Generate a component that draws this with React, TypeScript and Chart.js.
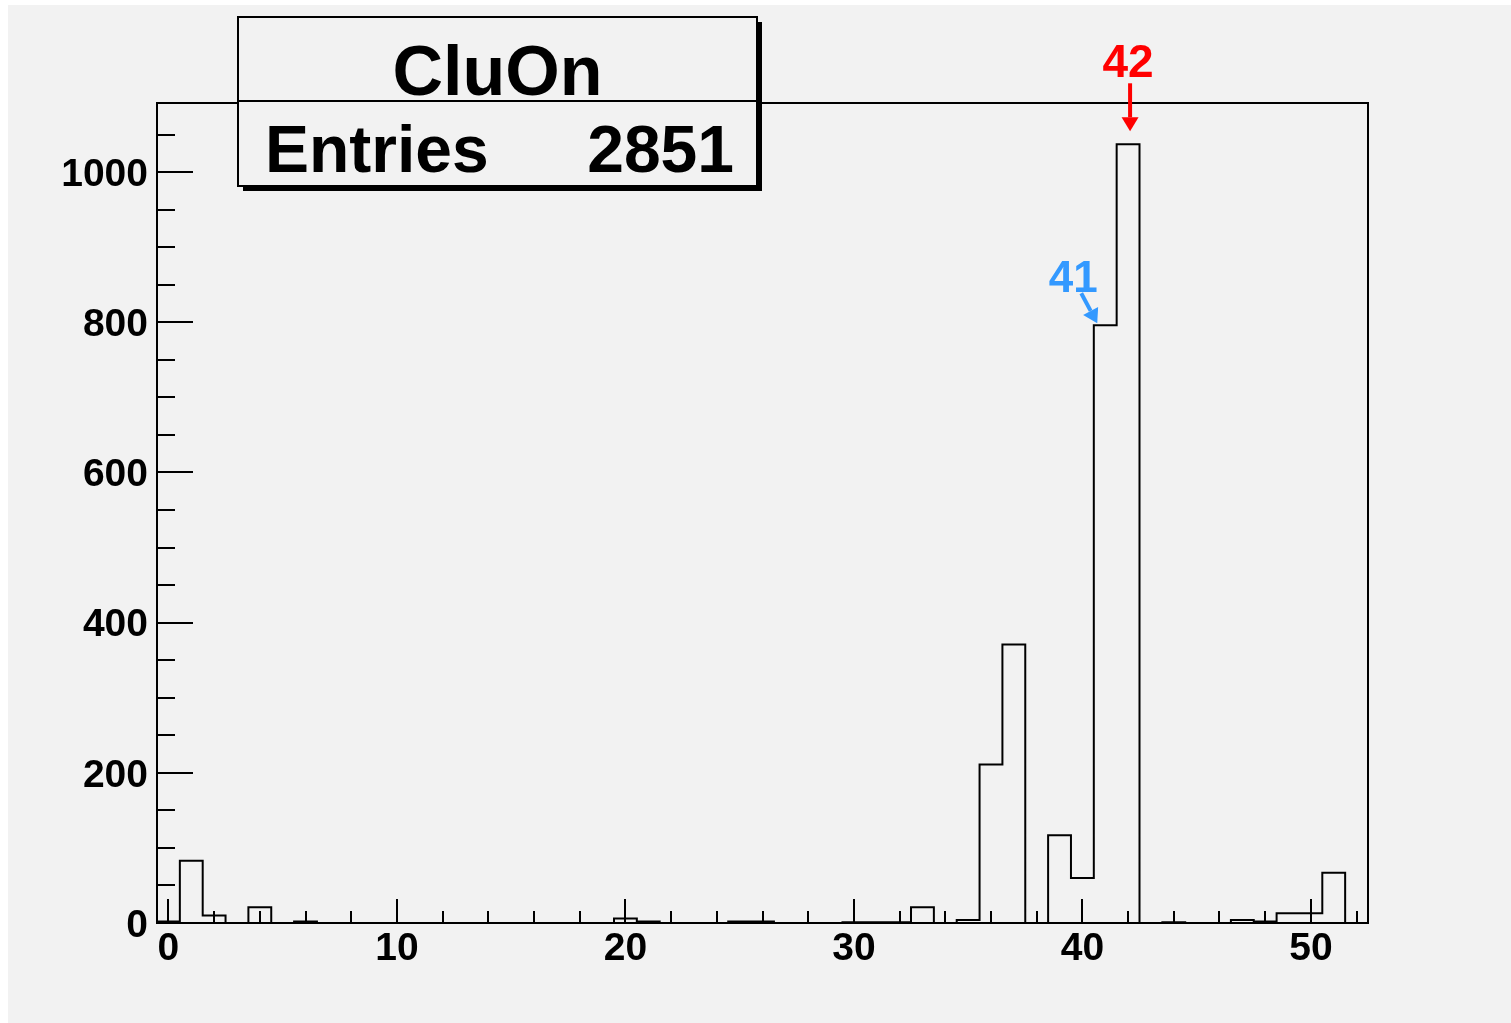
import React, { useEffect, useRef } from "react";
import { Chart, registerables } from "chart.js";

Chart.register(...registerables);

// ---- data ----
const binCenters = [
  0, 1, 2, 3, 4, 5, 6, 7, 8, 9, 10, 11, 12, 13, 14, 15, 16, 17, 18, 19, 20, 21, 22, 23, 24, 25, 26,
  27, 28, 29, 30, 31, 32, 33, 34, 35, 36, 37, 38, 39, 40, 41, 42, 43, 44, 45, 46, 47, 48, 49, 50, 51, 52,
];
const binCounts = [
  2, 83, 10, 0, 21, 0, 2, 0, 0, 0, 0, 0, 0, 0, 0, 0, 0, 0, 0, 0, 6, 2, 0, 0, 0, 2, 2,
  0, 0, 0, 1, 1, 1, 21, 0, 4, 211, 371, 0, 117, 60, 796, 1037, 0, 1, 0, 0, 4, 2, 13, 13, 67, 0,
];
const xMajorTicks = [0, 10, 20, 30, 40, 50];
const xMinorTicks = [0, 2, 4, 6, 8, 10, 12, 14, 16, 18, 20, 22, 24, 26, 28, 30, 32, 34, 36, 38, 40, 42, 44, 46, 48, 50, 52];
const yMajorTicks = [0, 200, 400, 600, 800, 1000];
const yMinorTicks = [0, 50, 100, 150, 200, 250, 300, 350, 400, 450, 500, 550, 600, 650, 700, 750, 800, 850, 900, 950, 1000, 1050];
const histTitle = "CluOn";
const entriesLabel = "Entries";
const entriesValue = "2851";
const markedBins = [41, 42];
const markedLabels = ["41", "42"];
const markedColors = ["#3399ff", "#ff0000"];

const FONT = "'Liberation Sans', Arial, Helvetica, sans-serif";

function drawArrow(ctx: CanvasRenderingContext2D, x1: number, y1: number, x2: number, y2: number, color: string) {
  const ang = Math.atan2(y2 - y1, x2 - x1);
  const headLen = 14;
  const headHalf = 8.5;
  const bx = x2 - headLen * Math.cos(ang);
  const by = y2 - headLen * Math.sin(ang);
  ctx.save();
  ctx.strokeStyle = color;
  ctx.fillStyle = color;
  ctx.lineWidth = 4;
  ctx.beginPath();
  ctx.moveTo(x1, y1);
  ctx.lineTo(bx, by);
  ctx.stroke();
  ctx.beginPath();
  ctx.moveTo(x2, y2);
  ctx.lineTo(bx + headHalf * Math.sin(ang), by - headHalf * Math.cos(ang));
  ctx.lineTo(bx - headHalf * Math.sin(ang), by + headHalf * Math.cos(ang));
  ctx.closePath();
  ctx.fill();
  ctx.restore();
}

const rootPlugin = {
  id: "rootStyle",
  beforeDraw(chart: any) {
    const ctx = chart.ctx as CanvasRenderingContext2D;
    ctx.save();
    ctx.fillStyle = "#ffffff";
    ctx.fillRect(0, 0, chart.width, chart.height);
    ctx.fillStyle = "#f2f2f2";
    ctx.fillRect(8, 5, chart.width - 8, chart.height - 5);
    ctx.restore();
  },
  afterDatasetsDraw(chart: any) {
    const ctx = chart.ctx as CanvasRenderingContext2D;
    const { left, right, top, bottom } = chart.chartArea;
    const xs = chart.scales.x;
    const ys = chart.scales.y;
    ctx.save();
    ctx.strokeStyle = "#000";
    ctx.lineWidth = 2;
    ctx.beginPath();
    xMinorTicks.forEach((v) => {
      const px = Math.round(xs.getPixelForValue(v));
      ctx.moveTo(px, bottom);
      ctx.lineTo(px, bottom - 12);
    });
    xMajorTicks.forEach((v) => {
      const px = Math.round(xs.getPixelForValue(v));
      ctx.moveTo(px, bottom);
      ctx.lineTo(px, bottom - 24);
    });
    yMinorTicks.forEach((v) => {
      const py = Math.round(ys.getPixelForValue(v));
      ctx.moveTo(left, py);
      ctx.lineTo(left + 18, py);
    });
    yMajorTicks.forEach((v) => {
      const py = Math.round(ys.getPixelForValue(v));
      ctx.moveTo(left, py);
      ctx.lineTo(left + 36, py);
    });
    ctx.stroke();
    ctx.strokeRect(left, top, right - left, bottom - top);
    ctx.restore();
  },
  afterDraw(chart: any) {
    const ctx = chart.ctx as CanvasRenderingContext2D;
    const xs = chart.scales.x;
    const ys = chart.scales.y;
    ctx.save();
    // stats box
    const bx = 238, by = 17, bw = 519, bh = 169;
    ctx.fillStyle = "#000";
    ctx.fillRect(bx + 5, by + 5, bw, bh);
    ctx.fillStyle = "#f2f2f2";
    ctx.fillRect(bx, by, bw, bh);
    ctx.strokeStyle = "#000";
    ctx.lineWidth = 2;
    ctx.strokeRect(bx, by, bw, bh);
    ctx.beginPath();
    ctx.moveTo(bx, 101);
    ctx.lineTo(bx + bw, 101);
    ctx.stroke();
    ctx.fillStyle = "#000";
    ctx.textBaseline = "alphabetic";
    ctx.font = `bold 70px ${FONT}`;
    ctx.textAlign = "center";
    ctx.fillText(histTitle, bx + bw / 2, 95);
    ctx.font = `bold 66px ${FONT}`;
    ctx.textAlign = "left";
    ctx.fillText(entriesLabel, 265, 172);
    ctx.textAlign = "right";
    ctx.fillText(entriesValue, 734, 172);

    // markers
    markedBins.forEach((b, i) => {
      const px = xs.getPixelForValue(b);
      const py = ys.getPixelForValue(binCounts[binCenters.indexOf(b)]);
      const color = markedColors[i];
      ctx.fillStyle = color;
      ctx.textAlign = "center";
      if (i === 1) {
        ctx.font = `bold 46px ${FONT}`;
        ctx.fillText(markedLabels[i], px, py - 67);
        drawArrow(ctx, px + 2, py - 61, px + 2, py - 13, color);
      } else {
        ctx.font = `bold 44px ${FONT}`;
        ctx.fillText(markedLabels[i], px - 32, py - 33);
        drawArrow(ctx, px - 24, py - 32, px - 8, py - 2, color);
      }
    });
    ctx.restore();
  },
};

export default function App() {
  const ref = useRef<HTMLCanvasElement>(null);
  useEffect(() => {
    document.body.style.margin = "0";
    const canvas = ref.current!;
    const points = binCenters.map((c, i) => ({ x: c - 0.5, y: binCounts[i] }));
    points.push({ x: binCenters[binCenters.length - 1] + 0.5, y: binCounts[binCounts.length - 1] });
    const chart = new Chart(canvas, {
      type: "line",
      data: {
        datasets: [
          {
            data: points,
            stepped: "before",
            borderColor: "#000",
            borderWidth: 2,
            pointRadius: 0,
            fill: false,
          } as any,
        ],
      },
      options: {
        responsive: false,
        animation: false,
        layout: { padding: { left: 0, top: 103, right: 143, bottom: 0 } },
        plugins: { legend: { display: false }, tooltip: { enabled: false }, title: { display: false } },
        scales: {
          x: {
            type: "linear",
            min: -0.5,
            max: 52.5,
            grid: { display: false, drawTicks: false },
            border: { display: false },
            afterFit: (s: any) => {
              s.height = 100;
            },
            afterBuildTicks: (s: any) => {
              s.ticks = xMajorTicks.map((v) => ({ value: v }));
            },
            ticks: {
              color: "#000",
              padding: 7,
              maxRotation: 0,
              autoSkip: false,
              callback: (v: any) => String(v),
              font: { family: FONT, weight: "bold", size: 39, lineHeight: 1 },
            },
          },
          y: {
            type: "linear",
            min: 0,
            max: 1092,
            grid: { display: false, drawTicks: false },
            border: { display: false },
            afterFit: (s: any) => {
              s.width = 157;
            },
            afterBuildTicks: (s: any) => {
              s.ticks = yMajorTicks.map((v) => ({ value: v }));
            },
            ticks: {
              color: "#000",
              padding: 9,
              labelOffset: 3,
              autoSkip: false,
              callback: (v: any) => String(v),
              font: { family: FONT, weight: "bold", size: 39, lineHeight: 1 },
            },
          },
        },
      },
      plugins: [rootPlugin],
    });
    return () => chart.destroy();
  }, []);
  return <canvas ref={ref} width={1511} height={1023} style={{ display: "block" }} />;
}
